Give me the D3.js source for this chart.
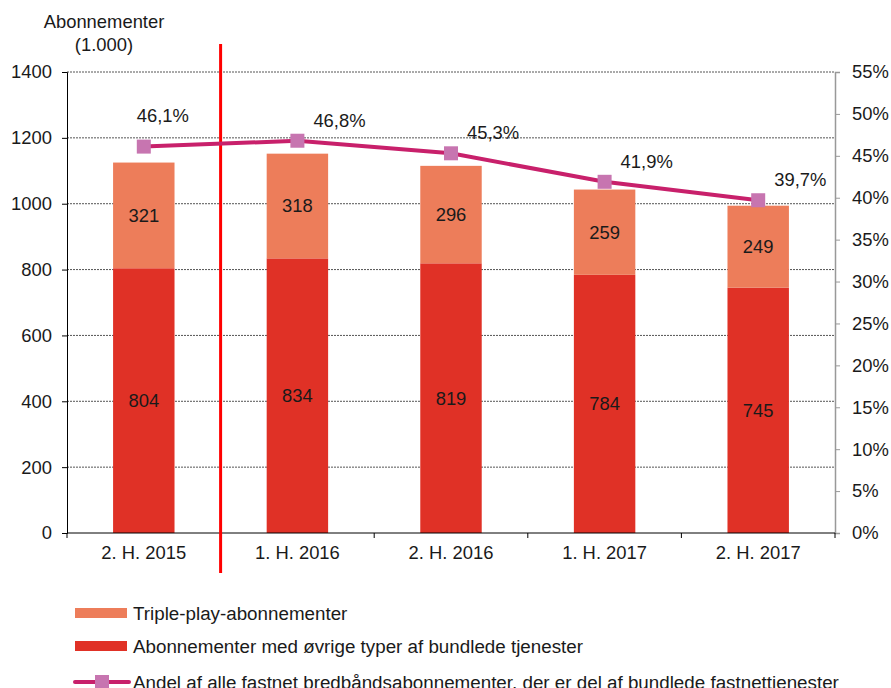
<!DOCTYPE html>
<html>
<head>
<meta charset="utf-8">
<script src="https://cdn.jsdelivr.net/npm/d3@7"></script>
<style>
  html, body { margin: 0; padding: 0; background: #fff; overflow: hidden; }
  svg { display: block; }
  text { font-family: "Liberation Sans", Arial, sans-serif; fill: #1a1a1a; }
</style>
</head>
<body>
<div id="chart"></div>
<script>
const categories = ["2. H. 2015", "1. H. 2016", "2. H. 2016", "1. H. 2017", "2. H. 2017"];
const otherBundles = [804, 834, 819, 784, 745];
const triplePlay = [321, 318, 296, 259, 249];
const shareBundled = [46.1, 46.8, 45.3, 41.9, 39.7];
const leftTicks = [0, 200, 400, 600, 800, 1000, 1200, 1400];
const rightTicks = [0, 5, 10, 15, 20, 25, 30, 35, 40, 45, 50, 55];
const legendLabels = [
  "Triple-play-abonnementer",
  "Abonnementer med øvrige typer af bundlede tjenester",
  "Andel af alle fastnet bredbåndsabonnementer, der er del af bundlede fastnettjenester"
];

const width = 891, height = 688;
const margin = { top: 72, right: 56, bottom: 155, left: 67 };
const innerWidth = width - margin.left - margin.right;
const innerHeight = height - margin.top - margin.bottom;
const fontSize = 18.4;

const colTriple = "#ED7D5A";
const colOther = "#E03126";
const colLine = "#C8206B";
const colMarker = "#C775B0";

const svg = d3.select("#chart").append("svg")
  .attr("width", width)
  .attr("height", height);

const g = svg.append("g")
  .attr("transform", `translate(${margin.left}, ${margin.top})`);

const x = d3.scaleBand().domain(categories).range([0, innerWidth]).padding(0);
const y = d3.scaleLinear().domain([0, 1400]).range([innerHeight, 0]);
const y2 = d3.scaleLinear().domain([0, 55]).range([innerHeight, 0]);

// gridlines
g.selectAll(".grid").data(leftTicks.filter(d => d > 0)).join("line")
  .attr("x1", 0).attr("x2", innerWidth)
  .attr("y1", d => y(d)).attr("y2", d => y(d))
  .attr("stroke", "#555").attr("stroke-width", 1)
  .attr("stroke-dasharray", "2,1");

// bars
const barW = x.bandwidth() * 0.4;
const cx = d => x(d) + x.bandwidth() / 2;

g.selectAll(".bar-other").data(categories).join("rect")
  .attr("x", d => cx(d) - barW / 2)
  .attr("width", barW)
  .attr("y", (d, i) => y(otherBundles[i]))
  .attr("height", (d, i) => y(0) - y(otherBundles[i]))
  .attr("fill", colOther);

g.selectAll(".bar-triple").data(categories).join("rect")
  .attr("x", d => cx(d) - barW / 2)
  .attr("width", barW)
  .attr("y", (d, i) => y(otherBundles[i] + triplePlay[i]))
  .attr("height", (d, i) => y(otherBundles[i]) - y(otherBundles[i] + triplePlay[i]))
  .attr("fill", colTriple);

// bar labels
g.selectAll(".lab-other").data(categories).join("text")
  .attr("x", d => cx(d))
  .attr("y", (d, i) => y(otherBundles[i] / 2))
  .attr("dy", "0.35em")
  .attr("text-anchor", "middle")
  .attr("font-size", fontSize)
  .text((d, i) => otherBundles[i]);

g.selectAll(".lab-triple").data(categories).join("text")
  .attr("x", d => cx(d))
  .attr("y", (d, i) => y(otherBundles[i] + triplePlay[i] / 2))
  .attr("dy", "0.35em")
  .attr("text-anchor", "middle")
  .attr("font-size", fontSize)
  .text((d, i) => triplePlay[i]);

// left axis
const leftAxis = g.append("g")
  .call(d3.axisLeft(y).tickValues(leftTicks).tickSize(5).tickPadding(10).tickFormat(d3.format("d")))
  .attr("font-size", fontSize)
  .attr("font-family", null);
leftAxis.select(".domain").attr("stroke", "#000");
leftAxis.selectAll("line").attr("stroke", "#000");
leftAxis.selectAll("text").attr("fill", "#1a1a1a");

// right axis
const rightAxis = g.append("g")
  .attr("transform", `translate(${innerWidth}, 0)`)
  .call(d3.axisRight(y2).tickValues(rightTicks).tickSize(5).tickPadding(12).tickFormat(d => d + "%"))
  .attr("font-size", fontSize)
  .attr("font-family", null);
rightAxis.select(".domain").attr("stroke", "#999").attr("stroke-width", 1.5);
rightAxis.selectAll("line").attr("stroke", "#999");
rightAxis.selectAll("text").attr("fill", "#1a1a1a");

// bottom axis with ticks at band boundaries
const bottom = g.append("g").attr("transform", `translate(0, ${innerHeight})`);
bottom.append("line").attr("x1", 0).attr("x2", innerWidth).attr("stroke", "#000");
bottom.selectAll(".xt").data(d3.range(categories.length + 1)).join("line")
  .attr("x1", i => i * x.step()).attr("x2", i => i * x.step())
  .attr("y1", 0).attr("y2", 5)
  .attr("stroke", "#000");
bottom.selectAll(".xl").data(categories).join("text")
  .attr("x", d => cx(d))
  .attr("y", 26)
  .attr("text-anchor", "middle")
  .attr("font-size", fontSize)
  .text(d => d);

// red divider between 2015 and 2016
g.append("line")
  .attr("x1", x(categories[1])).attr("x2", x(categories[1]))
  .attr("y1", -28).attr("y2", innerHeight + 40)
  .attr("stroke", "#FF0000").attr("stroke-width", 3);

// share line
const line = d3.line()
  .x((d, i) => cx(categories[i]))
  .y(d => y2(d));

g.append("path")
  .datum(shareBundled)
  .attr("fill", "none")
  .attr("stroke", colLine)
  .attr("stroke-width", 4)
  .attr("d", line);

g.selectAll(".mk").data(shareBundled).join("rect")
  .attr("x", (d, i) => cx(categories[i]) - 7)
  .attr("y", d => y2(d) - 7)
  .attr("width", 14).attr("height", 14)
  .attr("fill", colMarker);

g.selectAll(".pl").data(shareBundled).join("text")
  .attr("x", (d, i) => cx(categories[i]) + (i === 0 ? -7 : 16))
  .attr("y", (d, i) => y2(d) - (i === 0 ? 25 : 14))
  .attr("font-size", fontSize)
  .text(d => d3.format(".1f")(d).replace(".", ",") + "%");

// y axis title
svg.append("text")
  .attr("x", 104).attr("y", 28)
  .attr("text-anchor", "middle")
  .attr("font-size", fontSize)
  .text("Abonnementer");
svg.append("text")
  .attr("x", 104).attr("y", 51)
  .attr("text-anchor", "middle")
  .attr("font-size", fontSize)
  .text("(1.000)");

// legend
const legend = svg.append("g").attr("transform", "translate(75, 0)");
const legendY = [613, 646, 682];

legend.append("rect").attr("x", 0).attr("y", legendY[0] - 5).attr("width", 52).attr("height", 10).attr("fill", colTriple);
legend.append("rect").attr("x", 0).attr("y", legendY[1] - 5).attr("width", 52).attr("height", 10).attr("fill", colOther);
legend.append("line").attr("x1", 0).attr("x2", 54).attr("y1", legendY[2]).attr("y2", legendY[2])
  .attr("stroke", colLine).attr("stroke-width", 4).attr("stroke-linecap", "round");
legend.append("rect").attr("x", 20).attr("y", legendY[2] - 7).attr("width", 14).attr("height", 14).attr("fill", colMarker);

legend.selectAll(".lt").data(legendLabels).join("text")
  .attr("x", 58)
  .attr("y", (d, i) => legendY[i])
  .attr("dy", "0.35em")
  .attr("font-size", 18.8)
  .text(d => d);
</script>
</body>
</html>
